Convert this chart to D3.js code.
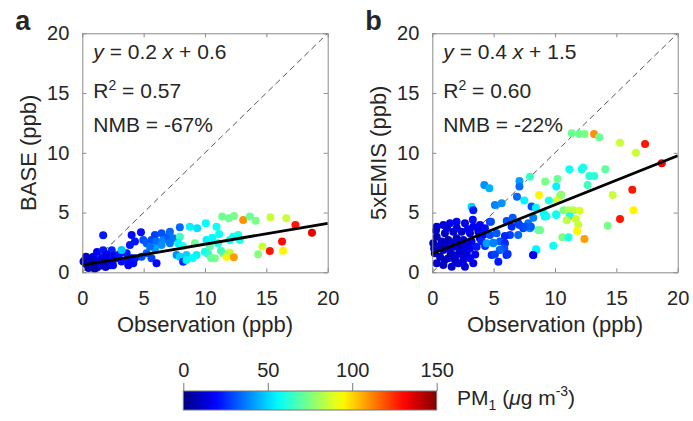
<!DOCTYPE html>
<html>
<head>
<meta charset="utf-8">
<script src="https://d3js.org/d3.v7.min.js"></script>
<style>
  body { margin: 0; background: #fff; }
  text { font-family: "Liberation Sans", Arial, sans-serif; fill: #262626; }
</style>
</head>
<body>
<div id="chart"></div>
<script>
// tick values
var axisTicks = [0, 5, 10, 15, 20];
var cbTicks = [0, 50, 100, 150];

// BASE panel: [observation, model, PM1]
var basePoints = [
  [0.2,1.0,10],[0.4,1.2,12],[0.3,0.7,8],[0.6,0.9,10],[0.9,1.3,14],[0.9,0.6,9],[1.0,1.0,12],
  [1.2,0.4,8],[1.3,1.0,15],[1.6,1.2,16],[1.4,0.55,10],[1.85,0.9,12],[2.1,1.0,18],[2.3,0.6,12],
  [2.5,1.0,20],[2.8,1.2,22],[2.5,0.6,18],[3.2,0.9,20],[3.6,1.0,22],[3.75,0.6,18],[4.0,1.2,24],
  [4.15,0.75,20],[0.5,0.35,6],[0.7,0.5,8],[1.0,0.3,6],[1.2,1.7,18],[1.7,1.85,22],[2.4,1.85,24],
  [1.1,0.8,10],[0.3,1.3,10],[2.0,1.5,15],[2.6,1.4,18],[3.0,1.5,22],[0.1,0.9,8],[0.5,1.05,9],
  [1.6,0.6,12],[2.0,0.8,14],[1.9,0.45,10],[1.7,3.1,22],
  [4.02,3.12,20],[4.29,2.57,22],[3.88,2.29,22],[4.78,3.35,20],[4.97,2.71,30],[5.24,2.43,32],
  [5.64,2.71,30],[5.92,3.12,28],[6.05,2.57,35],[6.46,3.26,30],[6.59,2.71,38],[7.0,2.98,32],
  [7.14,3.4,34],[7.41,2.85,36],[7.14,2.43,36],[6.46,2.29,40],[5.92,2.0,42],[5.51,2.15,35],
  [5.24,1.59,32],[4.83,1.31,30],[5.64,1.17,28],[6.05,0.75,20],[4.29,1.17,22],[3.88,1.03,20],
  [3.61,1.59,22],[3.2,1.87,48],[7.95,3.77,34],[7.95,2.98,65],[7.82,2.43,55],[7.68,1.45,40],
  [7.95,1.31,50],[8.22,0.89,25],[8.49,1.45,50],[8.49,1.03,55],[8.77,3.82,55],[9.17,2.43,72],
  [9.31,1.45,55],[9.36,3.68,52],[9.99,1.73,58],[10.07,4.1,56],[10.12,2.7,55],[10.26,1.53,62],
  [10.39,2.15,70],[10.8,1.17,75],[10.94,3.82,58],[11.07,2.43,60],[11.15,3.21,58],[11.4,4.66,72],
  [11.48,1.59,75],[11.75,1.31,95],[11.94,4.52,72],[12.02,2.7,58],[12.02,1.65,85],[12.29,2.98,58],
  [12.35,1.26,108],[12.37,4.71,74],[12.7,3.12,60],[12.84,2.7,60],[13.11,4.38,110],[13.65,4.66,72],
  [14.14,4.32,74],[14.33,1.51,76],[14.68,2.15,86],[15.28,1.79,128],[15.33,4.6,86],[16.28,2.57,130],
  [16.36,1.81,95],[16.63,4.52,86],[17.37,3.96,128],[18.72,3.32,135],
  [10.6,2.9,56],[11.3,1.8,66],[10.5,1.2,72],[9.0,1.2,56],[8.2,2.2,60]
];

// 5xEMIS panel: [observation, model, PM1]
var emisPoints = [
  [0.36,3.82,12],[0.9,3.96,14],[1.44,4.1,16],[1.98,4.24,18],[2.66,4.1,14],[3.34,3.82,16],
  [3.88,3.96,18],[4.29,3.68,20],[4.7,4.24,24],[3.75,3.4,16],[3.07,3.26,12],[2.39,3.4,10],
  [1.71,3.4,12],[1.03,3.26,10],[0.36,2.98,8],[0.08,2.43,8],[0.76,2.57,10],[1.3,2.71,8],
  [1.98,2.85,10],[2.53,2.71,12],[3.2,2.57,16],[3.88,2.85,18],[4.15,3.12,20],[0.9,1.87,10],
  [1.44,2.0,12],[1.98,2.14,14],[2.53,1.87,12],[3.07,2.0,16],[3.61,2.14,22],[0.63,1.31,10],
  [1.3,1.17,12],[1.85,1.03,12],[2.53,1.31,14],[3.07,1.17,18],[3.34,0.75,16],[0.9,0.61,10],
  [1.58,0.47,12],[2.66,0.47,14],[2.12,0.75,12],[0.36,0.75,10],[0.49,2.14,8],
  [0.2,1.6,8],[0.6,2.2,9],[1.1,2.4,10],[1.7,2.5,12],[2.2,2.3,10],[2.8,2.3,14],[1.5,1.6,10],
  [2.2,1.6,12],[0.3,3.5,10],[1.2,3.7,12],[2.0,3.7,14],[2.9,3.6,16],[3.3,4.4,20],[0.15,2.0,10],
  [1.0,1.0,10],[2.8,1.6,14],[3.5,1.5,18],[4.0,2.6,24],[4.3,2.2,26],[2.5,0.9,14],[1.9,1.4,12],
  [3.2,5.49,50],[3.34,5.2,22],[5.1,5.63,38],[5.65,5.77,40],[4.7,3.12,30],[5.24,3.26,32],
  [5.51,2.57,32],[5.92,2.43,25],[6.05,1.45,22],[5.51,1.87,35],[4.97,2.43,40],[4.84,1.45,25],
  [5.38,0.89,22],[6.33,3.12,28],[6.46,3.82,24],[7.0,4.1,26],[7.41,3.68,28],[7.0,3.12,34],
  [7.95,3.68,40],[7.82,4.1,36],[8.22,1.45,18],[8.49,1.87,55],[9.17,4.66,55],[10.1,4.8,56],
  [8.64,3.54,70],[5.92,3.04,24],[5.87,2.0,30],[6.14,1.53,26],[5.5,1.87,34],[5.1,1.5,28],
  [4.43,2.43,42],[4.97,2.48,38],
  [11.36,11.63,72],[11.96,11.58,72],[12.4,11.58,74],[13.18,11.58,110],[13.6,11.3,72],
  [15.3,10.85,86],[17.34,10.74,128],[16.6,10.0,86],[18.7,9.12,132],[11.17,8.62,58],
  [12.17,8.62,58],[12.3,8.78,60],[12.8,8.06,62],[13.2,8.06,62],[14.1,8.62,70],[12.66,7.3,66],
  [7.96,8.0,64],[9.2,7.6,74],[10.2,7.8,72],[10.1,7.17,55],[8.7,6.47,95],[10.5,6.5,76],
  [10.4,6.4,78],[10.15,6.0,88],[9.5,6.0,60],[7.5,6.0,55],[7.1,7.64,42],[7.1,7.17,35],
  [6.9,6.33,34],[4.24,7.3,40],[4.65,7.03,45],[4.78,4.24,30],[6.06,4.3,30],[6.55,4.57,32],
  [7.1,3.96,28],[7.56,3.82,30],[8.04,3.82,32],[8.09,5.5,30],[8.23,4.57,38],[8.45,5.4,55],
  [9.1,4.9,56],[9.3,4.7,58],[8.78,3.54,72],[10.1,4.85,58],[10.7,5.2,74],[11.1,5.2,82],
  [11.5,5.2,84],[12.0,5.15,88],[11.2,4.7,60],[10.95,4.35,84],[11.7,4.45,86],[11.9,3.98,86],
  [11.8,3.46,95],[12.4,2.79,108],[10.6,2.93,74],[11.1,2.93,60],[9.86,2.23,58],[8.45,1.92,55],
  [8.23,1.45,18],[14.3,3.9,74],[14.7,6.47,86],[15.3,4.46,128],[16.3,6.9,128],[16.4,5.2,95]
];

// fit lines and stats
var panels = [
  {letter: "a", ylabel: "BASE (ppb)", points: basePoints, slope: 0.175, intercept: 0.6,
   eq: ["0.2", "0.6"], r2: "0.57", nmb: "-67%", left: 82.3},
  {letter: "b", ylabel: "5xEMIS (ppb)", points: emisPoints, slope: 0.41, intercept: 1.55,
   eq: ["0.4", "1.5"], r2: "0.60", nmb: "-22%", left: 432.3}
];

var W = 693, H = 421;
var pw = 245.4, plotTop = 33.3, ph = 239;

function jet(v) {
  var t = Math.max(0, Math.min(1, v / 150));
  function c(x) { return Math.round(255 * Math.max(0, Math.min(1, x))); }
  return "rgb(" + c(1.5 - Math.abs(4 * t - 3)) + "," + c(1.5 - Math.abs(4 * t - 2)) + "," + c(1.5 - Math.abs(4 * t - 1)) + ")";
}

var svg = d3.select("#chart").append("svg")
  .attr("width", W).attr("height", H);

panels.forEach(function(p) {
  var x = d3.scaleLinear().domain([0, 20]).range([p.left, p.left + pw]);
  var y = d3.scaleLinear().domain([0, 20]).range([plotTop + ph, plotTop]);
  var g = svg.append("g");

  // 1:1 line
  g.append("line")
    .attr("x1", x(0)).attr("y1", y(0)).attr("x2", x(20)).attr("y2", y(20))
    .attr("stroke", "#555").attr("stroke-width", 1).attr("stroke-dasharray", "6,4");

  g.selectAll("circle").data(p.points).enter().append("circle")
    .attr("cx", function(d) { return x(d[0]); })
    .attr("cy", function(d) { return y(d[1]); })
    .attr("r", 4)
    .attr("fill", function(d) { return jet(d[2]); });

  // fit line
  g.append("line")
    .attr("x1", x(0)).attr("y1", y(p.intercept))
    .attr("x2", x(20)).attr("y2", y(p.intercept + 20 * p.slope))
    .attr("stroke", "#000").attr("stroke-width", 2.8);

  // axes (box with inward ticks)
  var axCol = "#8a8a8a";
  g.append("g").attr("transform", "translate(0," + y(0) + ")")
    .call(d3.axisBottom(x).tickValues(axisTicks).tickSize(-4).tickPadding(19).tickSizeOuter(0));
  g.append("g").attr("transform", "translate(0," + y(20) + ")")
    .call(d3.axisTop(x).tickValues(axisTicks).tickSize(-4).tickFormat("").tickSizeOuter(0));
  g.append("g").attr("transform", "translate(" + x(0) + ",0)")
    .call(d3.axisLeft(y).tickValues(axisTicks).tickSize(-4).tickPadding(13).tickSizeOuter(0));
  g.append("g").attr("transform", "translate(" + x(20) + ",0)")
    .call(d3.axisRight(y).tickValues(axisTicks).tickSize(-4).tickFormat("").tickSizeOuter(0));
  g.selectAll(".domain, .tick line").attr("stroke", axCol);
  g.selectAll(".tick text").attr("font-size", 20).attr("fill", "#262626")
    .attr("font-family", "Liberation Sans, Arial, sans-serif");

  // labels
  g.append("text").attr("x", x(10)).attr("y", 332).attr("text-anchor", "middle")
    .attr("font-size", 22).text("Observation (ppb)");
  g.append("text").attr("transform", "translate(" + (p.left - 46) + "," + y(10) + ") rotate(-90)")
    .attr("text-anchor", "middle").attr("font-size", 22).text(p.ylabel);
  g.append("text").attr("x", p.left - 67).attr("y", 30)
    .attr("font-size", 27).attr("font-weight", "bold").attr("fill", "#000").text(p.letter);

  // stats
  var tx = p.left + 11;
  var t1 = g.append("text").attr("x", tx).attr("y", 59).attr("font-size", 21);
  t1.append("tspan").attr("font-style", "italic").text("y");
  t1.append("tspan").text(" = " + p.eq[0] + " ");
  t1.append("tspan").attr("font-style", "italic").text("x");
  t1.append("tspan").text(" + " + p.eq[1]);
  var t2 = g.append("text").attr("x", tx).attr("y", 98).attr("font-size", 21);
  t2.append("tspan").text("R");
  t2.append("tspan").attr("font-size", 14).attr("dy", -8).text("2");
  t2.append("tspan").attr("dy", 8).text(" = " + p.r2);
  g.append("text").attr("x", tx).attr("y", 132).attr("font-size", 21).text("NMB = " + p.nmb);
});

// colorbar
var cb = d3.scaleLinear().domain([0, 150]).range([183.3, 436.7]);
var defs = svg.append("defs");
var grad = defs.append("linearGradient").attr("id", "jet").attr("x1", "0%").attr("x2", "100%");
d3.range(0, 151, 5).forEach(function(v) {
  grad.append("stop").attr("offset", (v / 150 * 100) + "%").attr("stop-color", jet(v));
});
svg.append("rect").attr("x", cb(0)).attr("y", 391).attr("width", cb(150) - cb(0)).attr("height", 19)
  .attr("fill", "url(#jet)").attr("stroke", "#777").attr("stroke-width", 1);
var cba = svg.append("g").attr("transform", "translate(0,391)")
  .call(d3.axisTop(cb).tickValues(cbTicks).tickSize(8).tickPadding(6).tickSizeOuter(0));
cba.select(".domain").remove();
cba.selectAll(".tick line").attr("stroke", "#777");
cba.selectAll(".tick text").attr("font-size", 20).attr("fill", "#262626")
  .attr("font-family", "Liberation Sans, Arial, sans-serif");

var pm = svg.append("text").attr("x", 457).attr("y", 405).attr("font-size", 21);
pm.append("tspan").text("PM");
pm.append("tspan").attr("font-size", 14).attr("dy", 5).text("1");
pm.append("tspan").attr("dy", -5).text(" (");
pm.append("tspan").attr("font-style", "italic").text("\u03bc");
pm.append("tspan").text("g m");
pm.append("tspan").attr("font-size", 14).attr("dy", -9).text("-3");
pm.append("tspan").attr("dy", 9).text(")");
</script>
</body>
</html>
